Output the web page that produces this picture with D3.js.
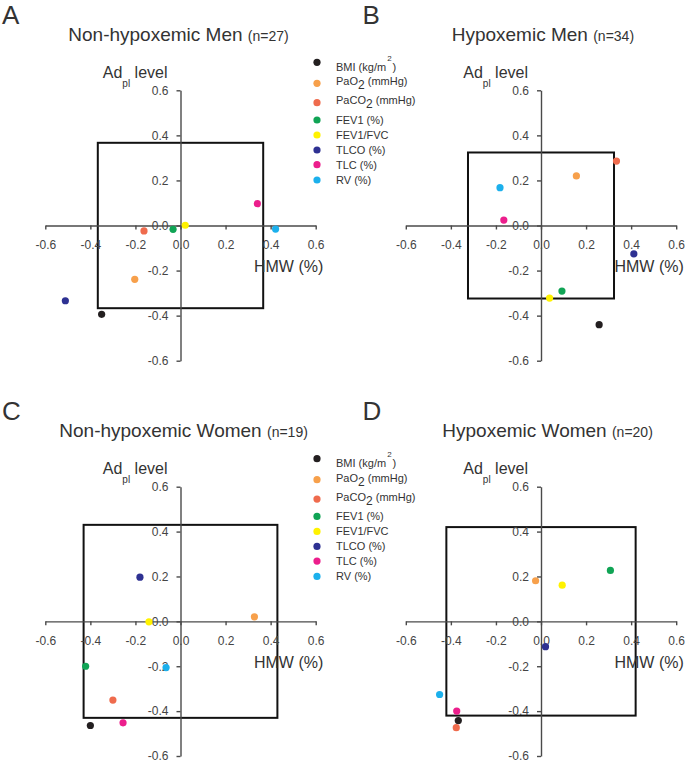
<!DOCTYPE html>
<html>
<head>
<meta charset="utf-8">
<script src="https://cdn.jsdelivr.net/npm/d3@7"></script>
<style>
  html, body { margin: 0; padding: 0; background: #fff; }
  svg { display: block; font-family: "Liberation Sans", Arial, sans-serif; }
</style>
</head>
<body>
<svg id="chart" width="685" height="762"></svg>
<script>
// ---- Data ----
const variables = ["BMI", "PaO2", "PaCO2", "FEV1", "FEV1/FVC", "TLCO", "TLC", "RV"];
const colors = ["#231f20", "#f7a04b", "#ef6b4d", "#10a455", "#fff200", "#2e3192", "#ec1e8c", "#1cb0ec"];
const tickValues = [-0.6, -0.4, -0.2, 0.0, 0.2, 0.4, 0.6];
const tickLabels = ["-0.6", "-0.4", "-0.2", "0.0", "0.2", "0.4", "0.6"];

const panelLetters = ["A", "B", "C", "D"];
const panelTitles = ["Non-hypoxemic Men", "Hypoxemic Men", "Non-hypoxemic Women", "Hypoxemic Women"];
const panelN = ["(n=27)", "(n=34)", "(n=19)", "(n=20)"];

// HMW (%) correlation (x) and Adpl level correlation (y), per variable
const hmwA = [-0.350, -0.203, -0.162, -0.033, 0.021, -0.511, 0.341, 0.422];
const adplA = [-0.394, -0.239, -0.024, -0.017, 0.001, -0.334, 0.097, -0.016];
const hmwB = [0.258, 0.157, 0.335, 0.093, 0.038, 0.412, -0.165, -0.182];
const adplB = [-0.440, 0.220, 0.286, -0.291, -0.322, -0.126, 0.024, 0.168];
const hmwC = [-0.400, 0.328, -0.300, -0.421, -0.140, -0.180, -0.255, -0.064];
const adplC = [-0.464, 0.020, -0.351, -0.200, -0.002, 0.197, -0.452, -0.206];
const hmwD = [-0.367, -0.024, -0.376, 0.308, 0.094, 0.020, -0.374, -0.450];
const adplD = [-0.442, 0.181, -0.474, 0.227, 0.161, -0.113, -0.400, -0.326];
// significance threshold (half-width of square) per panel
const thresholds = [0.367, 0.324, 0.430, 0.420];

const hmwAll = [hmwA, hmwB, hmwC, hmwD];
const adplAll = [adplA, adplB, adplC, adplD];

// ---- Layout ----
const svg = d3.select("#chart");
const panelOffsets = [[0, 0], [360.5, 0], [0, 396.4], [360.5, 396.4]];
const yBottom = [360.7, 360.7, 359.6, 359.6];
const titleX = [68.3, 451.7, 59.3, 442.3];
const axisColor = "#4a4a4a";
const textColor = "#333";

panelOffsets.forEach(([ox, oy], p) => {
  const g = svg.append("g").attr("transform", `translate(${ox},${oy})`);
  const x = d3.scaleLinear().domain([-0.6, 0.6]).range([45.3, 315.7]);
  const y = d3.scaleLinear().domain([-0.6, 0.6]).range([yBottom[p], 90.3]);

  // panel letter
  g.append("text").attr("x", 2).attr("y", 24)
    .attr("font-size", 26).attr("fill", textColor).text(panelLetters[p]);

  // title
  const t = g.append("text").attr("x", titleX[p] - ox).attr("y", 41)
    .attr("font-size", 19).attr("fill", textColor);
  t.append("tspan").text(panelTitles[p] + " ");
  t.append("tspan").attr("font-size", 14).text(panelN[p]);

  // significance square
  const th = thresholds[p];
  g.append("rect")
    .attr("x", x(-th)).attr("y", y(th))
    .attr("width", x(th) - x(-th)).attr("height", y(-th) - y(th))
    .attr("fill", "none").attr("stroke", "#111").attr("stroke-width", 2);

  // x axis through y=0
  const xAxis = d3.axisBottom(x).tickValues(tickValues)
    .tickFormat((d, i) => tickLabels[i]).tickSize(4).tickSizeOuter(0).tickPadding(11);
  const gx = g.append("g").attr("transform", `translate(0,${y(0)})`).call(xAxis);
  gx.select(".domain").attr("stroke", axisColor).attr("stroke-width", 1.4);
  gx.selectAll(".tick line").attr("stroke", axisColor).attr("stroke-width", 1.4);
  gx.selectAll(".tick text").attr("font-size", 12).attr("fill", "#444")
    .attr("font-family", "'Liberation Sans', Arial, sans-serif");

  // y axis through x=0
  const yAxis = d3.axisLeft(y).tickValues(tickValues)
    .tickFormat((d, i) => tickLabels[i]).tickSize(4).tickSizeOuter(0).tickPadding(8);
  const gy = g.append("g").attr("transform", `translate(${x(0)},0)`).call(yAxis);
  gy.select(".domain").attr("stroke", axisColor).attr("stroke-width", 1.4);
  gy.selectAll(".tick line").attr("stroke", axisColor).attr("stroke-width", 1.4);
  gy.selectAll(".tick text").attr("font-size", 12).attr("fill", "#444")
    .attr("font-family", "'Liberation Sans', Arial, sans-serif");

  // y axis label "Ad pl level"
  const yl = g.append("text").attr("x", x(0) - 13).attr("y", 77.7)
    .attr("text-anchor", "end").attr("font-size", 16).attr("fill", textColor);
  yl.append("tspan").text("Ad");
  yl.append("tspan").attr("font-size", 10).attr("dy", 9).text("pl");
  yl.append("tspan").attr("dy", -9).text(" level");

  // x axis label
  g.append("text").attr("x", x(0.6) + 7.6).attr("y", 271.7)
    .attr("text-anchor", "end").attr("font-size", 16).attr("fill", textColor)
    .text("HMW (%)");

  // points
  const pts = variables.map((v, i) => ({ v, c: colors[i], hx: hmwAll[p][i], ay: adplAll[p][i] }));
  g.selectAll("circle.pt").data(pts).enter().append("circle")
    .attr("class", "pt")
    .attr("cx", d => x(d.hx)).attr("cy", d => y(d.ay))
    .attr("r", 3.6).attr("fill", d => d.c);
});

// ---- Legends (between left and right panels) ----
const legendDotY = [62.3, 83.3, 102.7, 120, 135, 150, 164.7, 180];
const legendTextDy = [8.4, 2.0, 1.6, 4, 4, 4, 4.3, 4];
[0, 396.4].forEach(oy => {
  const lg = svg.append("g").attr("transform", `translate(0,${oy})`);
  variables.forEach((v, i) => {
    lg.append("circle").attr("cx", 317).attr("cy", legendDotY[i]).attr("r", 3.6).attr("fill", colors[i]);
    const tx = lg.append("text").attr("x", 336).attr("y", legendDotY[i] + legendTextDy[i])
      .attr("font-size", 11).attr("fill", textColor);
    if (v === "BMI") {
      tx.append("tspan").text("BMI (kg/m");
      tx.append("tspan").attr("font-size", 8).attr("dy", -10).attr("dx", 1).text("2");
      tx.append("tspan").attr("dy", 10).attr("dx", 1).text(")");
    } else if (v === "PaO2" || v === "PaCO2") {
      tx.append("tspan").text(v === "PaO2" ? "PaO" : "PaCO");
      tx.append("tspan").attr("font-size", 12).attr("dy", 4).text("2");
      tx.append("tspan").attr("dy", -4).text(" (mmHg)");
    } else if (v === "FEV1/FVC") {
      tx.text("FEV1/FVC");
    } else {
      tx.text(v + " (%)");
    }
  });
});
</script>
</body>
</html>
